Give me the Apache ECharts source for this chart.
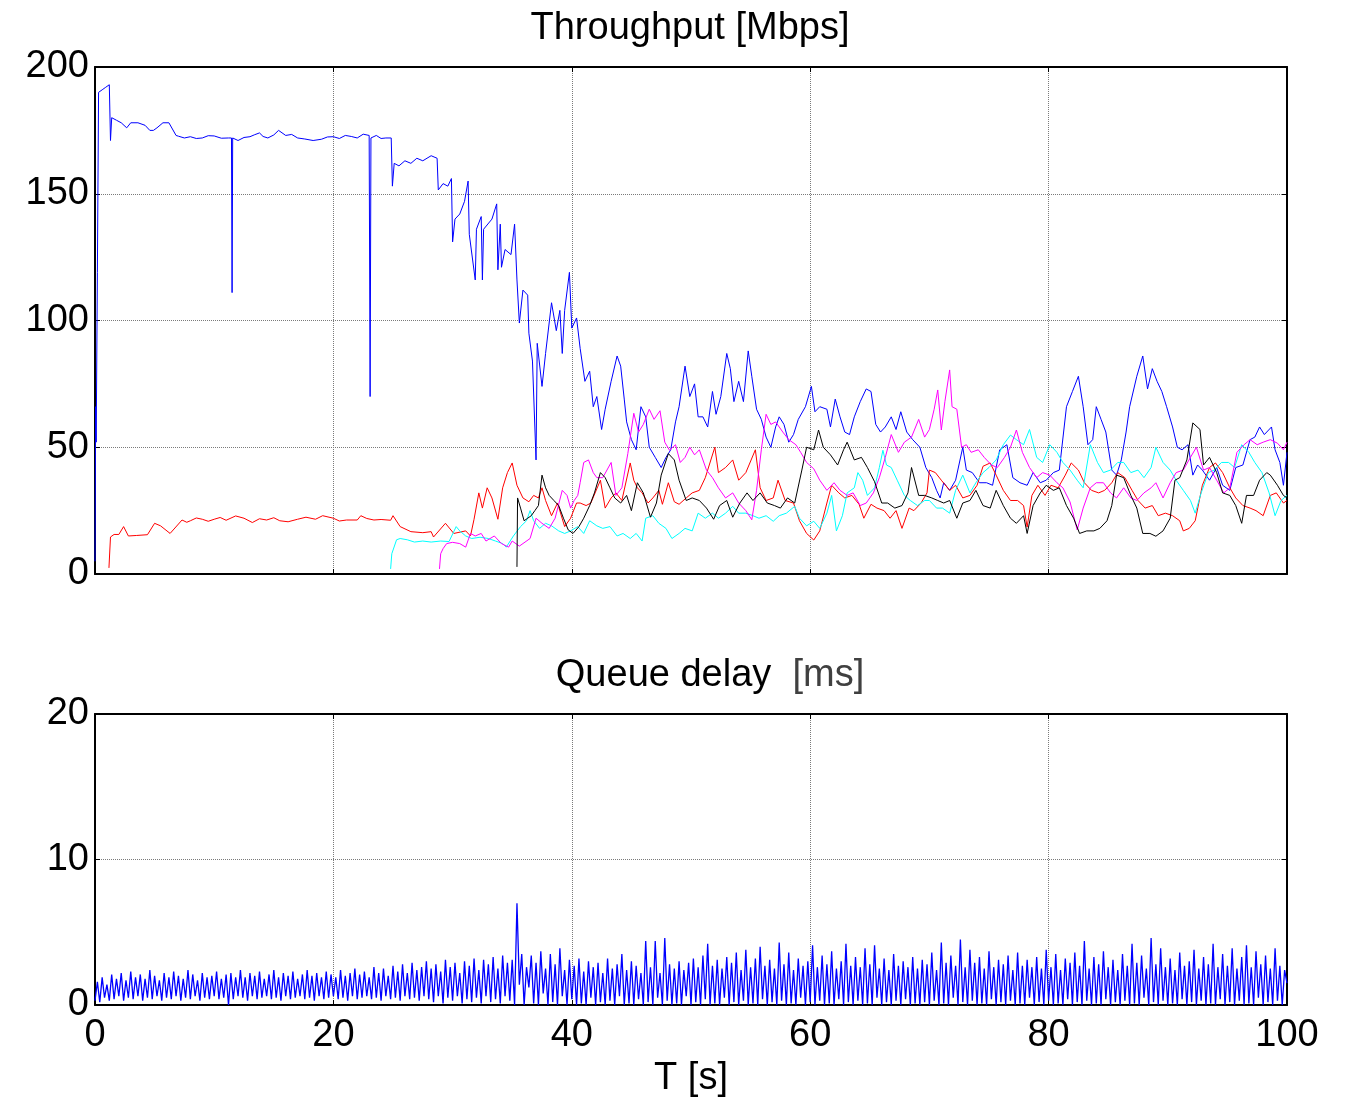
<!DOCTYPE html>
<html>

<head>
    <meta charset="UTF-8">
    <script src="https://cdn.jsdelivr.net/npm/echarts@6.0.0/dist/echarts.min.js"></script>
    <style>
        html, body { margin: 0; padding: 0; background: #fff; }
    </style>
</head>

<body>
    <div id="main" style="width: 1345px; height: 1100px;"></div>
    <script>
        // x ticks shared by both panels
        const xTicks = [0, 20, 40, 60, 80, 100];

        // throughput [Mbps], pairs of [t (s), value]
        const flowBlue = [[0,5],[0.05,66],[0.1,52],[0.2,119],[0.3,190],[0.6,191],[0.9,192],[1.2,193],[1.3,171],[1.4,180],[1.8,179],[2.2,178],[2.66,176],[3.0,178],[3.6,178],[4.2,177],[4.6,175],[4.9,175],[5.2,176],[5.7,178],[6.2,178],[6.8,173],[7.0,172.7],[7.5,172],[8,172.5],[8.5,171.8],[9,172],[9.5,172.9],[10,172.8],[10.6,171.9],[11.2,172],[11.45,172],[11.5,111],[11.55,172],[12,171],[12.5,172.2],[13,172.5],[13.4,173.3],[13.8,174],[14.1,172.6],[14.5,172],[15,173.2],[15.4,175],[16,173],[16.5,173.4],[17,172],[17.6,171.6],[18.3,171],[19,171.5],[19.5,172.4],[20,172.5],[20.5,171.8],[21,173],[21.5,172.6],[22,172],[22.5,173.5],[23.0,173],[23.08,70],[23.15,172],[23.6,173],[24.0,171.8],[24.4,172],[24.85,172],[24.95,153],[25.1,162],[25.5,161],[26,163],[26.5,162],[27,164],[27.5,163],[28.2,165],[28.7,164],[28.8,151.5],[29.2,154],[29.6,153],[29.9,156],[30.0,131],[30.2,140],[30.6,142],[31.0,147],[31.3,155],[31.4,134],[31.9,116],[32.0,136],[32.4,141],[32.5,116],[32.6,136],[33.3,140],[33.7,146],[33.8,120],[34.0,138],[34.1,121],[34.4,128],[34.9,126],[35.2,138],[35.4,116],[35.6,99],[35.9,112],[36.3,110],[36.4,95],[36.7,84],[37.0,45],[37.1,91],[37.5,74],[37.8,87],[38.3,107],[38.7,96],[39.0,104],[39.2,87],[39.4,104],[39.8,119],[40.0,97],[40.4,101],[40.7,89],[41.1,76],[41.5,80],[41.8,66],[42.1,70],[42.5,57],[42.8,65],[43.3,76],[43.8,86],[44.1,82],[44.4,69],[44.6,60],[45.0,53],[45.4,49],[45.8,66],[46.2,62],[46.5,50],[47.0,46],[47.5,42],[47.9,46],[48.3,49],[48.7,60],[49.0,66],[49.5,82],[49.9,70],[50.3,75],[50.6,62],[51.0,62],[51.4,58],[51.8,72],[52.1,63],[52.5,70],[53.0,87],[53.3,81],[53.6,68],[54.0,76],[54.4,68],[54.8,88],[55.1,78],[55.5,65],[55.9,61],[56.3,54],[56.7,50],[57.1,58],[57.4,62],[57.8,59],[58.2,52],[58.6,55],[59.0,61],[59.6,66],[60.1,74],[60.4,64],[60.8,66],[61.4,65],[61.7,58],[62.1,69],[62.5,62],[62.9,56],[63.3,55],[63.7,62],[64.2,68],[64.7,73],[65.1,72],[65.5,59],[65.9,56],[66.3,58],[66.8,62],[67.2,57],[67.6,64],[68.1,56],[68.6,53],[69.2,50],[69.7,42],[70.2,38],[70.6,33],[70.9,30],[71.2,36],[71.7,33],[72.2,37],[72.8,50],[73.1,41],[73.6,40],[74.2,36],[74.8,36],[75.3,35],[75.9,49],[76.5,51],[77.0,38],[77.6,36],[78.2,35],[78.7,40],[79.3,36],[79.8,37],[80.4,40],[80.9,41],[81.5,66],[82.0,72],[82.5,78],[82.9,66],[83.3,51],[83.7,53],[84.0,66],[84.4,61],[84.8,56],[85.3,41],[85.7,39],[86.1,45],[86.5,56],[86.8,66],[87.4,78],[87.9,86],[88.3,73],[88.7,81],[89.1,76],[89.5,72],[89.9,66],[90.4,58],[90.8,50],[91.2,49],[91.7,51],[92.1,39],[92.5,43],[92.9,41],[93.5,37],[94.1,42],[94.6,35],[95.2,33],[95.7,42],[96.3,43],[96.9,53],[97.3,54],[97.7,58],[98.1,55],[98.7,58],[99.0,49],[99.4,44],[99.7,35],[100,48]];

        const flowRed = [[1.17,2.4],[1.3,14.6],[1.6,15.6],[2.0,15.6],[2.4,18.7],[2.8,15],[3.5,15.2],[4.4,15.5],[5.0,20],[5.5,19],[6.3,16],[7.3,21.3],[7.7,20.4],[8,21],[8.5,22.1],[9,21.6],[9.5,20.8],[10,21.6],[10.5,22.3],[11,21.2],[11.8,22.9],[12.5,22],[13.2,20.3],[13.8,21.8],[14.4,21.3],[15,22.2],[15.5,21],[16.2,20.6],[17,21.6],[17.7,22.4],[18.5,21.6],[19.1,23],[20,22],[20.5,20.9],[21.1,21.3],[22,21.3],[22.3,23],[22.8,21.9],[23.4,21.3],[24,21.5],[24.8,21.2],[25,23],[25.6,18.7],[26.5,16.7],[27.5,16.3],[28.2,16.7],[28.4,14.6],[29.4,20],[30.1,16],[31.1,17],[31.5,15],[31.8,21.6],[32.2,32],[32.5,26],[32.9,34],[33.3,30],[33.8,21.6],[34.2,34],[34.6,40],[35.0,43.8],[35.4,35],[35.9,30],[36.4,28.5],[36.8,31],[37.2,30],[37.5,34],[37.8,29],[38.3,23],[38.8,28],[39.4,18.7],[39.9,22],[40.4,28],[40.7,28],[41.2,27],[41.6,28],[42.4,37],[42.8,26],[43.3,30],[43.7,32],[44.2,29],[44.9,43.8],[45.2,37],[45.5,34],[45.9,32],[46.4,28],[46.8,30],[47.3,33],[47.6,27.5],[48.1,36],[48.6,28.5],[49.0,27.5],[49.6,30],[50.1,32],[50.7,33],[51.2,38],[52.0,50],[52.3,40],[52.9,42],[53.5,45],[54.0,37],[54.6,40],[55.4,49],[55.8,34],[56.3,29],[56.9,30],[57.3,37],[57.9,29],[58.6,28],[59.1,21],[59.7,16],[60.3,13.4],[60.8,17],[61.4,28],[61.8,35],[62.4,32],[62.9,30],[63.5,31],[64.1,27.5],[64.5,22],[65.1,27.5],[65.6,26],[66.2,25],[66.7,22],[67.2,25],[67.7,18],[68.3,26],[68.7,25],[69.3,28],[69.8,32],[70.0,41],[70.5,40],[71.0,37],[71.7,33],[72.2,35],[72.8,30],[73.4,31],[74.0,35],[74.5,42.5],[75.1,43.8],[75.6,39],[76.2,33],[76.8,29],[77.4,29],[77.9,27],[78.2,18.5],[78.6,31],[79.1,35],[79.7,31],[80.2,35],[80.8,34],[81.4,39],[81.9,43.8],[82.5,41],[83.0,36],[83.6,33],[84.2,32],[84.7,33],[85.3,36],[85.8,40],[86.4,38],[87.0,33],[87.5,29],[88.1,26],[88.7,27],[89.2,23],[89.8,24],[90.4,23],[91.0,21],[91.3,17],[91.8,18],[92.3,21],[92.9,35],[93.5,42],[94.0,43.8],[94.6,40],[95.2,34],[95.7,30],[96.3,27],[96.9,26],[97.4,25],[98.0,23],[98.6,31],[99.1,32],[99.7,28],[100,29]];

        const flowCyan = [[24.8,2],[24.9,8],[25.3,13.5],[25.6,14],[26.2,13.5],[26.8,12.6],[27.5,13],[28.2,12.6],[29.0,13],[29.7,12.8],[30.3,18.7],[30.6,17],[31.1,15],[31.6,14],[32.3,14.5],[33.0,14],[33.6,13],[34.2,12],[34.5,10.6],[35.1,15],[35.7,18.7],[36.2,21],[36.5,25],[36.8,21],[37.3,18],[37.8,20],[38.3,19],[38.9,17],[39.4,16],[39.9,17],[40.5,18.7],[41.0,16],[41.5,21],[42.1,19],[42.6,18],[43.2,18.7],[43.8,15],[44.3,16],[44.9,14],[45.4,16],[45.9,13],[46.2,22],[46.8,23],[47.3,20],[47.9,18],[48.4,14],[49.0,16],[49.5,18],[50.1,17],[50.6,24],[51.2,22],[51.8,24],[52.3,22],[52.9,24],[53.5,26.7],[54.0,24],[54.6,24],[55.2,23],[55.7,22],[56.3,23],[56.9,20.8],[57.4,23],[58.0,24],[58.7,26.7],[59.1,22],[59.7,19],[60.3,20.8],[60.8,18],[61.4,24],[61.8,31],[62.2,17],[62.7,23],[63.1,32],[63.7,34],[64.0,40],[64.4,37],[64.8,31],[65.4,34],[65.8,42],[66.1,48.8],[66.4,43],[66.8,42],[67.3,37],[67.9,31],[68.4,29],[69.0,27],[69.6,29],[70.0,29],[70.6,26],[71.1,26],[71.7,24],[72.2,33],[72.8,39],[73.4,32],[73.9,36],[74.5,40],[75.0,42],[75.6,45],[76.2,51],[76.8,54.8],[77.3,53],[77.9,51],[78.4,57],[79.0,46],[79.5,44],[80.1,51],[80.7,48],[81.2,44],[81.8,41],[82.4,37],[82.9,34],[83.5,51],[84.1,44],[84.6,40],[85.2,41],[85.8,44],[86.3,44],[86.9,40],[87.5,41],[88.0,38],[88.6,42],[89.0,50],[89.6,44],[90.2,41],[90.7,37],[91.3,33],[91.9,29],[92.3,24],[92.8,32],[93.4,40],[93.9,41],[94.5,44],[95.1,44],[95.6,42],[96.2,51],[96.8,48],[97.3,44],[97.9,40],[98.5,32],[99.0,23],[99.5,29],[100,31]];

        const flowMagenta = [[28.9,2],[29.0,8],[29.2,10],[29.5,12],[30.0,12.5],[30.6,12],[31.1,10.6],[31.5,16],[31.9,15],[32.4,16],[32.8,13],[33.5,15],[34.1,12],[34.7,10.6],[35.0,13],[35.6,11],[36.5,14],[37.0,22],[37.5,20],[38.1,18],[38.6,22],[39.2,33],[39.6,31],[39.9,26],[40.2,29],[40.5,31],[40.7,36],[41.0,44],[41.4,45],[41.8,40],[42.1,38],[42.6,38],[43.3,44],[43.7,31],[44.2,34],[44.7,47.5],[45.2,63.4],[45.6,56],[46.0,59],[46.5,65],[46.9,61],[47.4,64.4],[47.8,52],[48.2,48.8],[48.7,51],[49.1,44],[49.5,46],[49.9,50],[50.3,47],[50.7,49],[51.3,41],[51.8,38],[52.3,34],[52.9,30],[53.5,32],[54.0,28],[54.6,25],[55.1,21.4],[55.5,33],[55.9,49],[56.3,63],[56.7,59],[57.1,60],[57.7,56],[58.2,53],[58.8,51],[59.2,48],[59.7,44],[60.3,41.5],[60.8,37],[61.4,33],[62.0,36],[62.5,33],[63.1,31],[63.6,32],[64.2,27],[64.7,28],[65.3,32],[65.8,38],[66.3,46],[66.8,55],[67.4,48],[67.9,52],[68.5,54],[69.1,61],[69.6,54],[70.0,57],[70.4,65],[70.7,72.6],[71.0,56.8],[71.3,68],[71.7,80.5],[71.9,66],[72.3,65],[72.7,50],[73.1,51],[73.5,48],[74.1,49],[74.6,46],[75.2,43],[75.7,42],[76.3,46],[76.8,50],[77.3,56.8],[77.8,48],[78.4,42],[79.0,38],[79.5,40],[80.1,39],[80.7,36],[81.2,34],[81.8,28.4],[82.4,17.4],[82.9,26],[83.5,34],[84.0,36],[84.6,36],[85.2,32],[85.7,30],[86.3,34],[86.9,30],[87.4,29],[88.0,32],[88.6,34],[89.0,36],[89.6,30],[90.2,36],[90.7,40],[91.3,41],[91.9,46],[92.4,50],[93.0,41],[93.5,42],[94.1,37],[94.7,32],[95.2,34],[95.8,48],[96.4,51],[96.9,53],[97.5,51],[98.0,52],[98.6,53],[99.2,51.6],[99.7,49],[100,52]];

        const flowBlack = [[35.4,2.8],[35.45,30],[35.7,26],[36.0,21],[36.3,22],[36.6,23],[36.9,25],[37.2,27],[37.5,39],[37.8,34],[38.1,31],[38.5,29],[38.9,27],[39.3,22],[39.7,17.4],[40.1,16],[40.6,18.7],[41.0,22],[41.5,27],[41.9,32],[42.4,40],[42.8,38],[43.2,34],[43.6,30],[44.1,28],[44.6,31],[45.0,25],[45.5,36],[46.0,32],[46.6,22.4],[47.1,28],[47.5,39],[48.1,47.5],[48.6,45],[49.0,37],[49.6,29],[50.1,30],[50.7,29],[51.3,26],[51.9,21.6],[52.4,27],[53.0,29],[53.5,22.4],[54.1,28],[54.7,32],[55.2,29],[55.8,32],[56.4,28],[57.0,27],[57.5,26],[58.1,30],[58.7,28],[59.3,41],[59.7,50],[60.3,49],[60.7,56.8],[61.1,50],[61.7,47],[62.3,43],[62.8,49],[63.1,52],[63.7,45],[64.3,46],[64.8,42],[65.4,36.4],[66.0,28],[66.5,28],[67.1,26],[67.7,27],[68.2,32],[68.5,42],[69.1,31],[69.6,31],[70.2,30],[70.7,29],[71.2,28],[71.7,29],[72.3,22],[72.8,28],[73.4,29],[73.9,33],[74.5,27],[75.1,26],[75.6,33],[76.2,27],[76.8,22],[77.3,20],[77.9,23],[78.2,16],[78.7,27],[79.3,32],[79.8,35],[80.4,33],[80.9,34],[81.5,27],[82.1,22],[82.6,16],[83.2,17],[83.8,17],[84.3,18],[84.9,21],[85.3,27],[85.7,39],[86.3,38],[86.9,31],[87.4,26],[87.9,16],[88.5,16],[89.0,14.9],[89.6,17],[90.2,22],[90.6,37],[91.0,38],[91.6,45],[92.1,59.6],[92.7,57],[93.0,43],[93.5,46],[94.1,40],[94.6,32],[95.2,31],[95.7,27],[96.2,20],[96.6,31],[97.2,31],[97.7,37],[98.3,40],[98.6,39],[99.2,35],[99.7,31],[100,30]];

        // queue delay [ms], one sample every 0.2 s starting at t = 0
        const delayStep = 0.2;
        const queueDelay = [
            0.3,1.6,0.2,1.9,0.5,1.4,0.3,2.1,0.4,1.8, 0.6,2.2,0.3,1.7,0.5,2.3,0.4,1.9,0.6,2.1,
            0.3,1.8,0.5,2.4,0.4,2.0,0.6,1.7,0.3,2.2, 0.5,1.9,0.4,2.3,0.6,2.0,0.3,1.8,0.5,2.4,
            0.4,2.1,0.6,1.7,0.3,2.2,0.5,1.9,0.4,2.0, 0.6,2.3,0.4,1.8,0.5,2.1,0.0,2.2,0.4,1.9,
            0.6,2.4,0.5,1.9,0.3,2.2,0.6,2.0,0.4,2.3, 0.5,1.8,0.6,2.1,0.4,2.4,0.5,1.9,0.3,2.2,
            0.6,2.0,0.4,2.3,0.5,1.8,0.6,2.1,0.4,2.4, 0.5,2.0,0.3,2.2,0.6,1.9,0.4,2.3,0.5,2.1,
            0.6,1.9,0.4,2.4,0.5,2.0,0.3,2.2,0.6,2.5, 0.4,2.1,0.5,2.3,0.6,1.9,0.4,2.6,0.5,2.2,
            0.3,2.5,0.6,2.0,0.4,2.7,0.5,2.3,0.3,2.8, 0.6,2.2,0.4,2.9,0.5,2.4,0.3,2.6,0.6,3.0,
            0.4,2.5,0.2,2.8,0.6,2.3,0.1,3.1,0.5,2.6, 0.3,2.9,0.6,2.2,0.1,3.0,0.4,2.7,0.2,3.2,
            0.5,2.4,0.1,3.1,0.6,2.8,0.2,3.3,0.4,2.5, 0.1,3.4,0.6,2.9,0.3,3.1,0.0,7.0,1.4,3.5,
            0.0,2.6,1.2,3.4,0.1,2.9,0.0,3.7,0.8,2.5, 0.0,3.5,0.2,2.8,0.0,3.9,0.6,2.4,0.0,3.1,
            0.4,2.7,0.0,3.2,0.1,2.3,0.0,3.0,0.5,2.6, 0.0,2.9,0.2,2.2,0.0,3.2,0.3,2.5,0.0,2.8,
            0.6,3.5,0.0,2.4,0.1,3.0,0.0,2.7,0.4,2.2, 0.0,4.4,0.2,2.6,0.0,4.4,0.5,2.2,0.0,4.6,
            0.3,2.8,0.0,2.5,0.1,3.0,0.0,2.4,0.6,2.9, 0.0,3.2,0.2,2.6,0.0,3.4,0.4,4.2,0.0,2.7,
            0.1,3.1,0.0,2.5,0.5,3.3,0.0,2.9,0.2,3.6, 0.0,2.4,0.3,3.8,0.0,2.6,0.1,3.2,0.0,4.0,
            0.4,2.7,0.0,3.1,0.2,2.5,0.0,4.3,0.3,2.8, 0.0,3.6,0.1,2.4,0.0,3.2,0.5,2.7,0.0,3.0,
            0.2,4.1,0.0,2.6,0.3,3.4,0.0,2.8,0.1,3.7, 0.0,2.5,0.4,3.0,0.0,4.2,0.2,2.7,0.0,3.3,
            0.3,2.6,0.0,3.9,0.1,2.8,0.0,4.1,0.5,2.5, 0.0,3.2,0.2,2.4,0.0,3.5,0.3,2.7,0.0,3.0,
            0.4,2.6,0.0,3.3,0.1,2.5,0.0,3.1,0.2,2.8, 0.0,3.6,0.3,2.4,0.0,4.3,0.1,2.9,0.0,3.4,
            0.5,2.7,0.0,4.5,0.2,2.6,0.0,3.8,0.3,2.9, 0.0,3.3,0.1,2.5,0.0,3.7,0.4,2.6,0.0,3.1,
            0.2,2.8,0.0,3.4,0.3,2.4,0.0,3.6,0.1,2.7, 0.0,3.1,0.5,2.6,0.0,3.3,0.2,2.5,0.0,3.8,
            0.3,2.6,0.0,3.5,0.1,2.4,0.0,3.2,0.4,2.9, 0.0,3.6,0.2,2.7,0.0,4.4,0.3,2.5,0.0,3.3,
            0.1,2.8,0.0,3.7,0.4,2.6,0.0,3.1,0.2,2.4, 0.0,3.5,0.3,2.7,0.0,4.2,0.1,2.9,0.0,3.4,
            0.5,2.5,0.0,4.6,0.2,2.8,0.0,3.9,0.3,2.6, 0.0,3.2,0.1,2.4,0.0,3.6,0.4,2.7,0.0,3.0,
            0.2,3.8,0.0,2.5,0.3,3.3,0.0,2.8,0.1,4.2, 0.0,2.6,0.4,3.5,0.0,2.7,0.2,3.9,0.0,2.5,
            0.3,3.3,0.0,4.1,0.1,2.6,0.0,3.7,0.5,2.8, 0.0,3.4,0.2,2.5,0.0,3.9,0.3,2.7,0.0,2.4,
            1.5
        ];

        const FONT = "'Liberation Sans', Arial, sans-serif";
        const FONT_SIZE = 38;
        const GRID_COLOR = '#7a7a7a';

        function boxX(grid, pos, showLabels, name) {
            return {
                type: 'value', gridIndex: grid, position: pos,
                min: 0, max: 100, interval: 20,
                axisLine: { show: true, onZero: false, lineStyle: { color: '#000', width: 2 } },
                axisTick: { show: true, inside: true, length: 5, lineStyle: { color: '#000' } },
                axisLabel: { show: showLabels, color: '#000', fontSize: FONT_SIZE, fontFamily: FONT, margin: 12 },
                splitLine: { show: pos === 'bottom', lineStyle: { color: GRID_COLOR, type: 'dotted', width: 1 } },
                name: name || '', nameLocation: 'middle', nameGap: 55,
                nameTextStyle: { color: '#000', fontSize: FONT_SIZE, fontFamily: FONT }
            };
        }

        function boxY(grid, pos, max, step, showLabels) {
            return {
                type: 'value', gridIndex: grid, position: pos,
                min: 0, max: max, interval: step,
                axisLine: { show: true, onZero: false, lineStyle: { color: '#000', width: 2 } },
                axisTick: { show: true, inside: true, length: 5, lineStyle: { color: '#000' } },
                axisLabel: { show: showLabels, color: '#000', fontSize: FONT_SIZE, fontFamily: FONT, margin: 6 },
                splitLine: { show: pos === 'left', lineStyle: { color: GRID_COLOR, type: 'dotted', width: 1 } }
            };
        }

        function flow(data, color) {
            return {
                type: 'line', xAxisIndex: 0, yAxisIndex: 0, data: data,
                showSymbol: false, symbol: 'none', clip: true,
                lineStyle: { color: color, width: 1 }
            };
        }

        const delayData = queueDelay.map((v, i) => [i * delayStep, v]);

        const myChart = echarts.init(document.getElementById('main'));
        const option = {
            animation: false,
            backgroundColor: '#fff',
            title: [
                {
                    text: 'Throughput [Mbps]', left: 685, top: 5, textAlign: 'center',
                    textStyle: { color: '#000', fontSize: FONT_SIZE, fontWeight: 'normal', fontFamily: FONT }
                },
                {
                    text: '{a|Queue delay}  {b|[ms]}', left: 705, top: 652, textAlign: 'center',
                    textStyle: {
                        fontSize: FONT_SIZE, fontWeight: 'normal', fontFamily: FONT,
                        rich: {
                            a: { color: '#000', fontSize: FONT_SIZE, fontFamily: FONT },
                            b: { color: '#404040', fontSize: FONT_SIZE, fontFamily: FONT }
                        }
                    }
                }
            ],
            grid: [
                { left: 95, top: 67, width: 1192, height: 507 },
                { left: 95, top: 714, width: 1192, height: 291 }
            ],
            xAxis: [
                boxX(0, 'bottom', false),
                boxX(0, 'top', false),
                boxX(1, 'bottom', true, 'T [s]'),
                boxX(1, 'top', false)
            ],
            yAxis: [
                boxY(0, 'left', 200, 50, true),
                boxY(0, 'right', 200, 50, false),
                boxY(1, 'left', 20, 10, true),
                boxY(1, 'right', 20, 10, false)
            ],
            series: [
                flow(flowBlue, '#0000ff'),
                flow(flowRed, '#ff0000'),
                flow(flowCyan, '#00ffff'),
                flow(flowMagenta, '#ff00ff'),
                flow(flowBlack, '#000000'),
                {
                    type: 'line', xAxisIndex: 2, yAxisIndex: 2, data: delayData,
                    showSymbol: false, symbol: 'none', clip: true,
                    lineStyle: { color: '#0000ff', width: 1.3 }
                }
            ]
        };
        myChart.setOption(option);
    </script>
</body>

</html>
